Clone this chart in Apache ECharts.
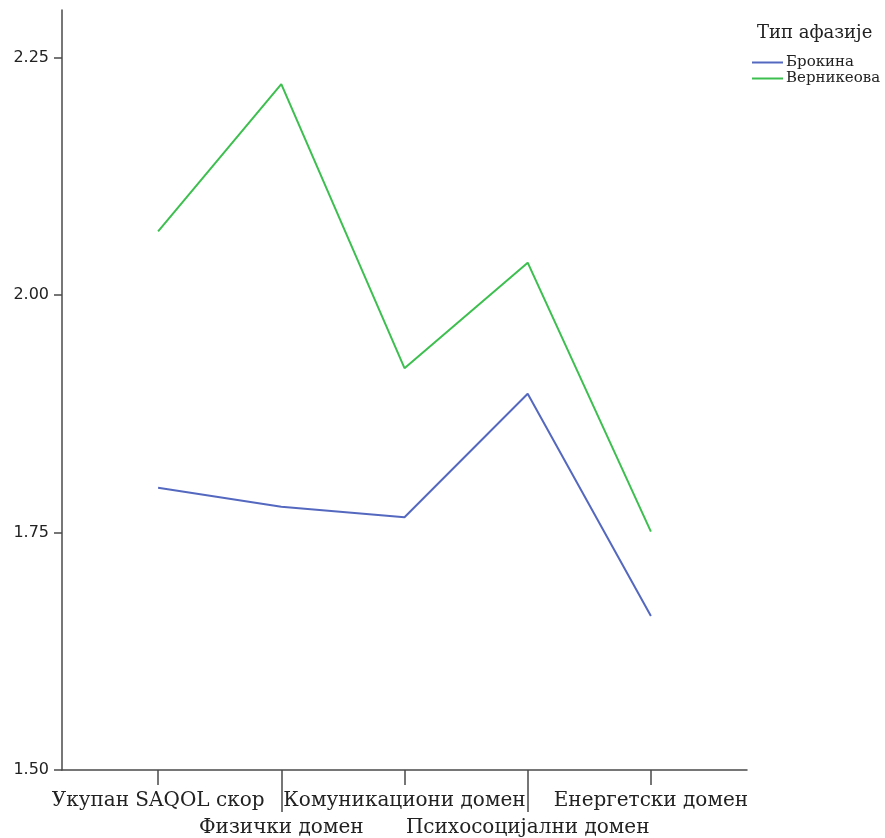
<!DOCTYPE html>
<html>
<head>
<meta charset="utf-8">
<script src="https://cdn.jsdelivr.net/npm/echarts@6/dist/echarts.min.js"></script>
<style>html,body{margin:0;padding:0;background:#fff}#c{width:885px;height:838px}</style>
</head>
<body>
<div id="c"></div>
<script>
var categories = ['Укупан SAQOL скор', 'Физички домен', 'Комуникациони домен', 'Психосоцијални домен', 'Енергетски домен'];
var brocaValues = [1.797, 1.777, 1.766, 1.896, 1.662];
var wernickeValues = [2.067, 2.222, 1.923, 2.034, 1.751];
var seriesNames = ['Брокина', 'Верникеова'];
var yTicks = [1.50, 1.75, 2.00, 2.25];
var legendTitle = 'Тип афазије';

var FONT = 'DejaVu Serif';
var AX = '#4a4a4a';
var positions = categories.map(function(_, i){ return i + 1; });
var oddPos = positions.filter(function(p){ return p % 2 === 1; });
var evenPos = positions.filter(function(p){ return p % 2 === 0; });

function pairs(vals){ return vals.map(function(v, i){ return [positions[i], v]; }); }

var gridBox = {left: 62, right: 138, top: 10, bottom: 68};
function xAxisFor(grid, pos, tickLen, margin, showLine){
  return {
    type: 'value', gridIndex: grid, min: 0.22, max: 5.78,
    splitLine: {show: false},
    axisLine: {show: showLine, lineStyle: {color: AX, width: 1.5}},
    axisTick: {show: true, customValues: pos, length: tickLen, lineStyle: {color: AX, width: 1.5}},
    axisLabel: {
      customValues: pos, margin: margin, color: '#222',
      fontFamily: FONT, fontSize: 20,
      formatter: function(v){ return categories[Math.round(v) - 1] || ''; }
    }
  };
}
function yAxisFor(grid, show){
  return {
    type: 'value', gridIndex: grid, min: 1.5, max: 2.30, show: show,
    splitLine: {show: false},
    axisLine: {show: true, lineStyle: {color: AX, width: 1.5}},
    axisTick: {show: true, customValues: yTicks, length: 8, lineStyle: {color: AX, width: 1.5}},
    axisLabel: {
      customValues: yTicks, margin: 13, color: '#222', fontFamily: 'DejaVu Sans', fontSize: 16,
      formatter: function(v){ return v.toFixed(2); }
    }
  };
}

var chart = echarts.init(document.getElementById('c'), null, {renderer: 'canvas'});
chart.setOption({
  backgroundColor: '#fff',
  animation: false,
  title: {
    text: legendTitle, left: 757, top: 24, padding: 0,
    textStyle: {fontFamily: FONT, fontSize: 18, fontWeight: 'normal', color: '#222'}
  },
  legend: {
    orient: 'vertical', left: 752, top: 55, itemGap: 1, padding: 0,
    itemWidth: 31, itemHeight: 2, icon: 'rect',
    textStyle: {fontFamily: FONT, fontSize: 15, color: '#222', lineHeight: 15, padding: [0,0,0,-2]},
    data: seriesNames
  },
  grid: [Object.assign({}, gridBox), Object.assign({}, gridBox)],
  xAxis: [xAxisFor(0, oddPos, 15, 21, true), xAxisFor(1, evenPos, 42, 48, false)],
  yAxis: [yAxisFor(0, true), yAxisFor(1, false)],
  series: [
    {name: seriesNames[0], type: 'line', xAxisIndex: 0, yAxisIndex: 0, data: pairs(brocaValues),
     symbol: 'none', lineStyle: {color: '#5468c0', width: 2}, itemStyle: {color: '#5468c0'}},
    {name: seriesNames[1], type: 'line', xAxisIndex: 0, yAxisIndex: 0, data: pairs(wernickeValues),
     symbol: 'none', lineStyle: {color: '#3dbf4f', width: 2}, itemStyle: {color: '#3dbf4f'}}
  ]
});
</script>
</body>
</html>
